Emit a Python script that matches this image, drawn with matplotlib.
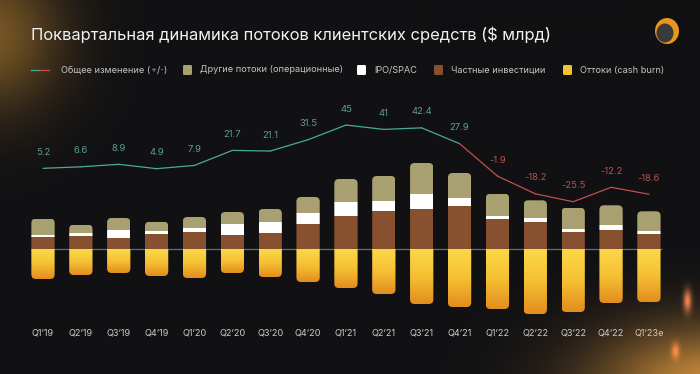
import matplotlib
import numpy as np

matplotlib.use("Agg")
import matplotlib.pyplot as plt
from matplotlib.colors import LinearSegmentedColormap
from matplotlib.patches import FancyBboxPatch, Ellipse


quarters = ["Q1’19", "Q2’19", "Q3’19", "Q4’19", "Q1’20", "Q2’20", "Q3’20", "Q4’20",
            "Q1’21", "Q2’21", "Q3’21", "Q4’21", "Q1’22", "Q2’22", "Q3’22", "Q4’22", "Q1’23e"]
net_change = [5.2, 6.6, 8.9, 4.9, 7.9, 21.7, 21.1, 31.5, 45, 41, 42.4, 27.9,
              -1.9, -18.2, -25.5, -12.2, -18.6]
private_inv = [12, 13, 11, 15, 17, 14, 16, 25, 33, 38, 40, 43, 30, 27, 17, 19, 15]
ipo_spac = [2.4, 3.4, 8, 3.3, 4, 11, 11, 11, 14, 10, 15, 8, 3.3, 3.7, 3.3, 4.7, 2.7]
other_flows = [16, 8, 12, 9, 11, 12, 13, 16, 23, 25, 31, 25, 22, 18, 21, 20, 20]
outflows = [-30, -26, -24, -27, -29, -24, -28, -33, -39, -45, -55, -58, -60, -65, -63, -54, -53]

TEAL = "#4aa99b"
RED = "#c0504c"
OLIVE = "#a8a070"
BROWN = "#87502e"
WHITE = "#ffffff"
BG = "#121214"
TICK = "#c9c9c9"

W_PX, H_PX = 700, 374
FONT = "Inter"

fig = plt.figure(figsize=(7.0, 3.74), dpi=100)
fig.patch.set_facecolor(BG)

# background glows
yy, xx = np.mgrid[0:H_PX, 0:W_PX]
bg = np.zeros((H_PX, W_PX, 3))
bg[:] = (17, 17, 19)
glow_tl = np.exp(-(((xx + 10) / 70.0) ** 2 + ((yy - 35) / 75.0) ** 2))
bg += glow_tl[..., None] * np.array([100, 68, 18])
glow_br = np.exp(-(((xx - 715) / 120.0) ** 2 + ((yy - 385) / 60.0) ** 2))
bg += glow_br[..., None] * np.array([180, 120, 40])
flare = np.exp(-(((xx - 687) / 4.0) ** 2 + ((yy - 300) / 11.0) ** 2))
bg += flare[..., None] * np.array([200, 100, 60])
flare2 = np.exp(-(((xx - 675) / 4.0) ** 2 + ((yy - 350) / 8.0) ** 2))
bg += flare2[..., None] * np.array([120, 50, 20])
bg = np.clip(bg, 0, 255) / 255.0
ax_bg = fig.add_axes([0, 0, 1, 1], zorder=-10)
ax_bg.imshow(bg, extent=(0, 1, 0, 1), aspect="auto")
ax_bg.set_xlim(0, 1)
ax_bg.set_ylim(0, 1)
ax_bg.axis("off")

x = np.arange(len(quarters))
bar_w = 0.615
xlim = (-0.5, len(quarters) - 0.5)

# bar axes: px 150..320 from top
bar_ylim = (-71, 99)
ax = fig.add_axes([24.06 / W_PX, 1 - 320 / H_PX, 643.8 / W_PX, 170 / H_PX])
ax.set_facecolor("none")
ax.set_xlim(*xlim)
ax.set_ylim(*bar_ylim)
for s in ax.spines.values():
    s.set_visible(False)
ax.set_yticks([])
ax.set_xticks(x)
ax.set_xticklabels(quarters, fontsize=6.6, color=TICK, family=FONT)
ax.get_xticklabels()[-1].set_color("#d6c6b0")
ax.tick_params(axis="x", length=0, pad=6)

px_x = 643.8 / (xlim[1] - xlim[0])
px_y = 170 / (bar_ylim[1] - bar_ylim[0])
aspect = px_x / px_y

ax.hlines(0, -0.32, len(quarters) - 1 + 0.35, color="#6b6b6b", lw=0.9, zorder=1)

private_arr = np.array(private_inv, dtype=float)
ipo_arr = np.array(ipo_spac, dtype=float)
other_arr = np.array(other_flows, dtype=float)
top_arr = private_arr + ipo_arr + other_arr

clips = []
for i in range(len(quarters)):
    clip = FancyBboxPatch((x[i] - bar_w / 2, outflows[i]), bar_w, top_arr[i] - outflows[i],
                          boxstyle="round,pad=0,rounding_size=0.12",
                          mutation_aspect=aspect, transform=ax.transData)
    clips.append(clip)

layers = [
    ax.bar(x, private_arr, bar_w, color=BROWN, zorder=2),
    ax.bar(x, ipo_arr, bar_w, bottom=private_arr, color=WHITE, zorder=2),
    ax.bar(x, other_arr, bar_w, bottom=private_arr + ipo_arr, color=OLIVE, zorder=2),
]
for cont in layers:
    for i, p in enumerate(cont.patches):
        p.set_clip_path(clips[i])

burn_cmap = LinearSegmentedColormap.from_list("burn", ["#fcd848", "#f5c033", "#e38d1f"])
grad = np.linspace(0, 1, 64).reshape(-1, 1)
for i in range(len(quarters)):
    im = ax.imshow(grad, extent=(x[i] - bar_w / 2, x[i] + bar_w / 2, outflows[i], 0),
                   origin="upper", aspect="auto", cmap=burn_cmap, zorder=2)
    im.set_clip_path(clips[i])
ax.set_xlim(*xlim)
ax.set_ylim(*bar_ylim)

# line axes: px 100..220 from top, zero at 174
line_ylim = (-46 / 1.088, 74 / 1.088)
ax_l = fig.add_axes([24.06 / W_PX, 1 - 220 / H_PX, 643.8 / W_PX, 120 / H_PX])
ax_l.set_facecolor("none")
ax_l.set_xlim(*xlim)
ax_l.set_ylim(*line_ylim)
ax_l.axis("off")
for i in range(len(quarters) - 1):
    c = RED if net_change[i + 1] < 0 else TEAL
    ax_l.plot(x[i:i + 2], net_change[i:i + 2], color=c, lw=0.9, solid_capstyle="round")
for i, v in enumerate(net_change):
    c = "#5a9e94" if v >= 0 else "#b4524e"
    ax_l.annotate(f"{v:g}", (x[i], v), xytext=(0, 11.5), textcoords="offset points",
                  ha="center", va="center", fontsize=6.8, color=c, family=FONT)

# title
fig.text(31 / W_PX, 1 - 35 / H_PX, "Поквартальная динамика потоков клиентских средств ($ млрд)",
         fontsize=11.9, color="#f2f2f2", family=FONT, va="center", ha="left")

# logo
fig.add_artist(Ellipse((667 / W_PX, 1 - 31 / H_PX), 24 / W_PX, 26 / H_PX,
                       transform=fig.transFigure, facecolor="#e8961e", edgecolor="none"))
fig.add_artist(Ellipse((665 / W_PX, 1 - 33 / H_PX), 17 / W_PX, 19 / H_PX,
                       transform=fig.transFigure, facecolor="#3a3a3a", edgecolor="none"))

# legend
leg_y = 1 - 70 / H_PX
ax_bg.plot([31 / W_PX, 40 / W_PX], [leg_y, leg_y], color=TEAL, lw=0.9)
ax_bg.plot([40 / W_PX, 49 / W_PX], [leg_y, leg_y], color=RED, lw=0.9)
leg_kw = dict(fontsize=6.6, color="#c4c4c4", family=FONT, va="center")
t = ax_bg.text(61 / W_PX, leg_y, "Общее изменение (", **leg_kw)
for part, col in [("+", TEAL), ("/", "#c4c4c4"), ("-", RED), (")", "#c4c4c4")]:
    t = ax_bg.annotate(part, xy=(1, 0.5), xycoords=t, ha="left", va="center",
                       fontsize=6.6, color=col, family=FONT)

items = [(183, OLIVE, "Другие потоки (операционные)"),
         (357, WHITE, "IPO/SPAC"),
         (434, BROWN, "Частные инвестиции"),
         (563, "#f5c033", "Оттоки (cash burn)")]
for px, col, label in items:
    sq = FancyBboxPatch((px / W_PX, leg_y - 5 / H_PX), 9 / W_PX, 10 / H_PX,
                        boxstyle="round,pad=0,rounding_size=0.002",
                        mutation_aspect=W_PX / H_PX, transform=fig.transFigure,
                        facecolor=col, edgecolor="none")
    fig.add_artist(sq)
    fig.text((px + 17) / W_PX, leg_y, label, **leg_kw)

fig.savefig("out.png", dpi=100, facecolor=fig.get_facecolor())
